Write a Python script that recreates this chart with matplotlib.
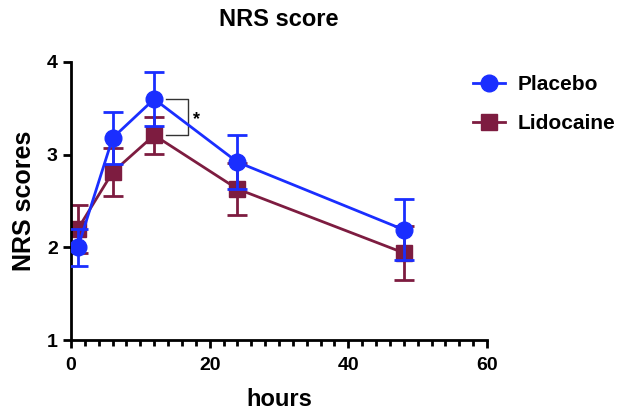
import matplotlib
matplotlib.use('Agg')
import matplotlib.pyplot as plt
from matplotlib.lines import Line2D
from matplotlib.ticker import MultipleLocator

plt.rcParams['font.family'] = ['Liberation Sans', 'DejaVu Sans']
plt.rcParams['font.weight'] = 'bold'

hours = [1, 6, 12, 24, 48]
placebo = [2.00, 3.18, 3.60, 2.92, 2.19]
placebo_err = [0.20, 0.28, 0.29, 0.29, 0.33]
lidocaine = [2.20, 2.81, 3.21, 2.63, 1.94]
lidocaine_err = [0.26, 0.26, 0.20, 0.28, 0.29]

blue = '#1A2EFF'
wine = '#7D1C40'

fig = plt.figure(figsize=(6.18, 4.11), dpi=100)
ax = fig.add_axes([71/618, 71/411, 416/618, 278/411])

ax.errorbar(hours, lidocaine, yerr=lidocaine_err, color=wine, marker='s', markersize=11,
            linewidth=2, elinewidth=2, capsize=7, capthick=2, zorder=2)
ax.errorbar(hours, placebo, yerr=placebo_err, color=blue, marker='o', markersize=12,
            linewidth=2, elinewidth=2, capsize=7, capthick=2, zorder=3)

# significance bracket at 12 h
ax.plot([13.7, 16.9, 16.9, 13.7], [placebo[2], placebo[2], lidocaine[2], lidocaine[2]],
        color='#333333', linewidth=1, zorder=1)
ax.text(17.6, 3.38, '*', fontsize=13, ha='left', va='center')

ax.set_xlim(0, 60)
ax.set_ylim(1, 4)
ax.set_xticks([0, 20, 40, 60])
ax.xaxis.set_minor_locator(MultipleLocator(2))
ax.set_yticks([1, 2, 3, 4])
for s in ['top', 'right']:
    ax.spines[s].set_visible(False)
for s in ['left', 'bottom']:
    ax.spines[s].set_linewidth(2)
ax.tick_params(width=2, length=6, labelsize=14)
ax.tick_params(axis='x', pad=6)
ax.tick_params(axis='x', which='minor', width=2, length=4)

ax.set_title('NRS score', fontsize=17, fontweight='bold', pad=26)
ax.set_xlabel('hours', fontsize=17, fontweight='bold', labelpad=10)
ax.set_ylabel('NRS scores', fontsize=18, fontweight='bold', labelpad=8)

handles = [Line2D([], [], color=blue, marker='o', markersize=12, linewidth=2),
           Line2D([], [], color=wine, marker='s', markersize=11, linewidth=2)]
fig.legend(handles, ['Placebo', 'Lidocaine'], loc='upper left',
           bbox_to_anchor=(463/618, 1 - 65/411), borderpad=0, frameon=False,
           fontsize=15, handlelength=1.5, handletextpad=0.6, labelspacing=0.95)

fig.savefig('out.png', dpi=100)
